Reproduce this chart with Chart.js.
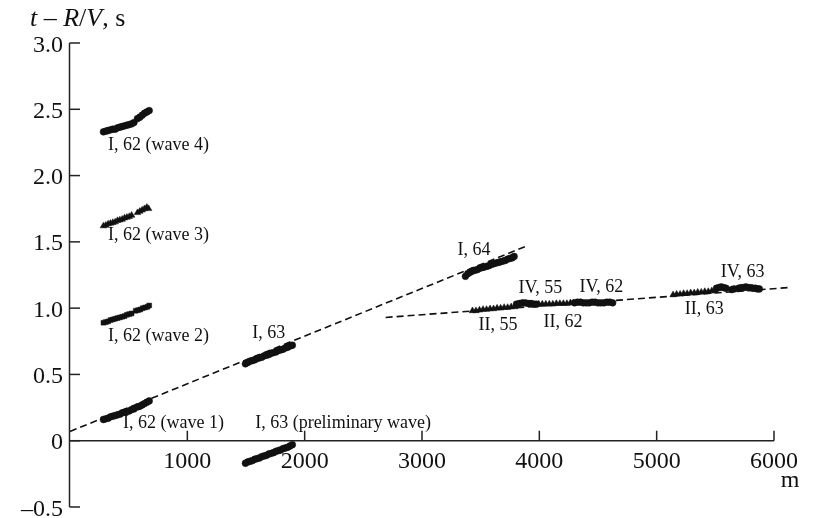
<!DOCTYPE html>
<html lang="en">
<head>
<meta charset="utf-8">
<title>t – R/V</title>
<script src="https://cdn.jsdelivr.net/npm/chart.js@4.4.1/dist/chart.umd.min.js"></script>
<style>
    html, body { margin: 0; padding: 0; background: #fff; }
    #chart-wrap { width: 821px; height: 518px; }
</style>
</head>
<body>
<div id="chart-wrap"><canvas id="travel-chart" width="821" height="518"></canvas></div>
<script>
// Graduations des axes
const xTicks = [1000, 2000, 3000, 4000, 5000, 6000];
const yTicks = [-0.5, 0, 0.5, 1.0, 1.5, 2.0, 2.5, 3.0];

// Profil I, 62 : quatre ondes
const wave4X = [285, 305, 325, 345, 365, 385, 405, 425, 445, 465, 485, 505, 525, 545, 575, 595, 615, 635, 655, 675];
const wave4Y = [2.33, 2.335, 2.34, 2.345, 2.35, 2.35, 2.36, 2.365, 2.37, 2.375, 2.38, 2.385, 2.39, 2.40, 2.43, 2.44, 2.455, 2.47, 2.48, 2.49];
const wave3X = [285, 305, 325, 345, 365, 385, 405, 425, 445, 465, 485, 505, 525, 575, 595, 615, 635, 655, 670];
const wave3Y = [1.62, 1.625, 1.635, 1.64, 1.645, 1.65, 1.66, 1.665, 1.67, 1.68, 1.685, 1.69, 1.70, 1.72, 1.73, 1.74, 1.75, 1.76, 1.75];
const wave2X = [285, 305, 325, 345, 365, 385, 405, 425, 445, 465, 485, 505, 525, 560, 580, 600, 620, 640, 660, 675];
const wave2Y = [0.89, 0.895, 0.90, 0.91, 0.915, 0.92, 0.925, 0.93, 0.935, 0.94, 0.95, 0.955, 0.96, 0.98, 0.985, 0.99, 1.00, 1.005, 1.01, 1.02];
const wave1X = [285, 305, 325, 345, 365, 385, 405, 425, 445, 465, 485, 505, 525, 545, 575, 595, 615, 635, 655, 675];
const wave1Y = [0.16, 0.165, 0.17, 0.18, 0.185, 0.19, 0.195, 0.20, 0.21, 0.215, 0.22, 0.225, 0.235, 0.24, 0.255, 0.26, 0.27, 0.28, 0.29, 0.30];

// Profils I, 63 et I, 64
const i63X = [1495, 1515, 1535, 1555, 1575, 1595, 1615, 1635, 1655, 1675, 1695, 1715, 1735, 1755, 1775, 1795, 1815, 1835, 1855, 1875, 1895];
const i63Y = [0.58, 0.59, 0.60, 0.605, 0.61, 0.62, 0.625, 0.63, 0.64, 0.645, 0.65, 0.66, 0.665, 0.67, 0.68, 0.685, 0.69, 0.70, 0.705, 0.715, 0.72];
const preX = [1495, 1515, 1535, 1555, 1575, 1595, 1615, 1635, 1655, 1675, 1695, 1715, 1735, 1755, 1775, 1795, 1815, 1835, 1855, 1875, 1895];
const preY = [-0.17, -0.16, -0.155, -0.15, -0.14, -0.135, -0.13, -0.12, -0.115, -0.11, -0.10, -0.095, -0.09, -0.08, -0.075, -0.07, -0.06, -0.055, -0.05, -0.04, -0.03];
const i64X = [3370, 3390, 3410, 3430, 3450, 3470, 3490, 3510, 3530, 3550, 3570, 3590, 3610, 3630, 3650, 3670, 3690, 3710, 3730, 3750, 3770, 3785];
const i64Y = [1.24, 1.26, 1.27, 1.28, 1.285, 1.29, 1.30, 1.305, 1.31, 1.315, 1.32, 1.33, 1.335, 1.34, 1.345, 1.35, 1.355, 1.36, 1.37, 1.375, 1.38, 1.39];

// Profils II et IV
const ii55X = [3430, 3460, 3490, 3520, 3550, 3580, 3610, 3640, 3670, 3700, 3730, 3760, 3790];
const ii55Y = [0.98, 0.98, 0.985, 0.99, 0.99, 0.995, 0.995, 1.00, 1.00, 1.005, 1.005, 1.01, 1.01];
const iv55X = [3805, 3830, 3855, 3880, 3905, 3930, 3955, 3975];
const iv55Y = [1.03, 1.035, 1.04, 1.04, 1.035, 1.035, 1.03, 1.03];
const ii62X = [3995, 4025, 4055, 4085, 4115, 4145, 4175, 4205, 4235, 4265, 4290];
const ii62Y = [1.03, 1.03, 1.03, 1.03, 1.03, 1.035, 1.035, 1.035, 1.035, 1.04, 1.04];
const iv62X = [4300, 4325, 4350, 4375, 4400, 4425, 4450, 4475, 4500, 4525, 4550, 4575, 4600, 4625];
const iv62Y = [1.04, 1.045, 1.045, 1.04, 1.04, 1.04, 1.045, 1.045, 1.04, 1.04, 1.04, 1.045, 1.045, 1.04];
const ii63X = [5140, 5170, 5200, 5230, 5260, 5290, 5320, 5350, 5380, 5410, 5440, 5470, 5500];
const ii63Y = [1.10, 1.105, 1.105, 1.11, 1.11, 1.115, 1.115, 1.12, 1.12, 1.125, 1.125, 1.13, 1.13];
const iv63X = [5510, 5530, 5550, 5570, 5590, 5640, 5660, 5700, 5720, 5740, 5760, 5780, 5800, 5820, 5840, 5860, 5875];
const iv63Y = [1.15, 1.155, 1.16, 1.155, 1.15, 1.14, 1.145, 1.15, 1.155, 1.155, 1.16, 1.155, 1.155, 1.15, 1.15, 1.145, 1.145];

// Droites de régression (pointillés)
const fit1X = [0, 3880];
const fit1Y = [0.07, 1.465];
const fit2X = [2690, 6120];
const fit2Y = [0.93, 1.155];

// Étiquettes des profils (coordonnées en données)
const labels = [
    { text: 'I, 62 (wave 4)', x: 324, y: 2.23 },
    { text: 'I, 62 (wave 3)', x: 324, y: 1.55 },
    { text: 'I, 62 (wave 2)', x: 324, y: 0.79 },
    { text: 'I, 62 (wave 1)', x: 452, y: 0.134 },
    { text: 'I, 63', x: 1553, y: 0.807 },
    { text: 'I, 63 (preliminary wave)', x: 1578, y: 0.134 },
    { text: 'I, 64', x: 3302, y: 1.435 },
    { text: 'IV, 55', x: 3823, y: 1.148 },
    { text: 'II, 55', x: 3481, y: 0.868 },
    { text: 'II, 62', x: 4036, y: 0.89 },
    { text: 'IV, 62', x: 4343, y: 1.155 },
    { text: 'IV, 63', x: 5546, y: 1.268 },
    { text: 'II, 63', x: 5239, y: 0.989 }
];

const SERIF = '"Liberation Serif", "Times New Roman", serif';
const INK = '#111';

document.addEventListener('DOMContentLoaded', function() {
    initTravelChart();
});

/**
 * Combine deux tableaux x / y en points {x, y}
 */
function toPoints(xs, ys) {
    return xs.map((x, i) => ({ x: x, y: ys[i] }));
}

/**
 * Jeu de points (marqueurs noirs)
 */
function markerSet(name, xs, ys, style) {
    return {
        label: name,
        data: toPoints(xs, ys),
        showLine: false,
        pointStyle: style,
        pointRadius: style === 'triangle' ? 3.8 : 3.4,
        pointBackgroundColor: INK,
        pointBorderColor: INK,
        pointBorderWidth: 0.5,
        order: 0
    };
}

/**
 * Droite en pointillés
 */
function dashedLine(name, xs, ys) {
    return {
        label: name,
        data: toPoints(xs, ys),
        showLine: true,
        borderColor: INK,
        borderWidth: 1.6,
        borderDash: [7, 4],
        pointRadius: 0,
        fill: false,
        clip: false,
        order: 1
    };
}

/**
 * Dessine les axes, graduations, titres et étiquettes
 */
const axesPlugin = {
    id: 'axesPlugin',
    afterDraw(chart) {
        const ctx = chart.ctx;
        const xs = chart.scales.x;
        const ys = chart.scales.y;
        const x0 = xs.getPixelForValue(0);
        const y0 = ys.getPixelForValue(0);

        ctx.save();
        ctx.strokeStyle = '#222';
        ctx.fillStyle = INK;
        ctx.lineWidth = 1.5;

        // Axe vertical
        ctx.beginPath();
        ctx.moveTo(x0 - 0.5, ys.getPixelForValue(yTicks[yTicks.length - 1]));
        ctx.lineTo(x0 - 0.5, ys.getPixelForValue(yTicks[0]));
        ctx.stroke();

        // Axe horizontal (à t = 0)
        ctx.beginPath();
        ctx.moveTo(x0 - 1, y0);
        ctx.lineTo(xs.getPixelForValue(xTicks[xTicks.length - 1]), y0);
        ctx.stroke();

        // Graduations Y (vers l'intérieur)
        ctx.font = '24px ' + SERIF;
        ctx.textAlign = 'right';
        ctx.textBaseline = 'alphabetic';
        yTicks.forEach(v => {
            const py = ys.getPixelForValue(v);
            ctx.beginPath();
            ctx.moveTo(x0 - 0.5, py);
            ctx.lineTo(x0 + 10, py);
            ctx.stroke();
            let txt = v === 0 ? '0' : Math.abs(v).toFixed(1);
            if (v < 0) txt = '\u2013' + txt;
            ctx.fillText(txt, x0 - 7, py + 8.5);
        });

        // Graduations X (vers le haut)
        ctx.textAlign = 'center';
        xTicks.forEach(v => {
            const px = xs.getPixelForValue(v);
            ctx.beginPath();
            ctx.moveTo(px, y0);
            ctx.lineTo(px, y0 - 10);
            ctx.stroke();
            ctx.fillText(String(v), px, y0 + 27);
        });

        // Unité de l'axe X
        ctx.fillText('m', xs.getPixelForValue(xTicks[xTicks.length - 1]) + 16, y0 + 46);

        // Titre de l'axe Y : t – R/V, s
        const parts = [
            { text: 't', italic: true },
            { text: ' \u2013 ', italic: false },
            { text: 'R', italic: true },
            { text: '/', italic: false },
            { text: 'V', italic: true },
            { text: ', s', italic: false }
        ];
        ctx.textAlign = 'left';
        let tx = 30;
        parts.forEach(p => {
            ctx.font = (p.italic ? 'italic ' : '') + '26px ' + SERIF;
            ctx.fillText(p.text, tx, 26);
            tx += ctx.measureText(p.text).width;
        });

        // Étiquettes des profils
        ctx.font = '18px ' + SERIF;
        ctx.textBaseline = 'middle';
        labels.forEach(l => {
            ctx.fillText(l.text, xs.getPixelForValue(l.x), ys.getPixelForValue(l.y));
        });

        ctx.restore();
    }
};

/**
 * Initialise le graphique t – R/V en fonction de la distance
 */
function initTravelChart() {
    const ctx = document.getElementById('travel-chart').getContext('2d');

    const data = {
        datasets: [
            dashedLine('fit I', fit1X, fit1Y),
            dashedLine('fit II/IV', fit2X, fit2Y),
            markerSet('I, 62 (wave 4)', wave4X, wave4Y, 'circle'),
            markerSet('I, 62 (wave 3)', wave3X, wave3Y, 'triangle'),
            markerSet('I, 62 (wave 2)', wave2X, wave2Y, 'rect'),
            markerSet('I, 62 (wave 1)', wave1X, wave1Y, 'circle'),
            markerSet('I, 63', i63X, i63Y, 'circle'),
            markerSet('I, 63 (preliminary wave)', preX, preY, 'circle'),
            markerSet('I, 64', i64X, i64Y, 'circle'),
            markerSet('II, 55', ii55X, ii55Y, 'triangle'),
            markerSet('IV, 55', iv55X, iv55Y, 'circle'),
            markerSet('II, 62', ii62X, ii62Y, 'triangle'),
            markerSet('IV, 62', iv62X, iv62Y, 'circle'),
            markerSet('II, 63', ii63X, ii63Y, 'triangle'),
            markerSet('IV, 63', iv63X, iv63Y, 'circle')
        ]
    };

    const config = {
        type: 'scatter',
        data: data,
        options: {
            responsive: false,
            animation: false,
            devicePixelRatio: 1,
            layout: {
                padding: { left: 70, top: 43, right: 47, bottom: 11 }
            },
            plugins: {
                legend: { display: false },
                tooltip: { enabled: false }
            },
            scales: {
                x: {
                    type: 'linear',
                    min: 0,
                    max: 6000,
                    display: false
                },
                y: {
                    type: 'linear',
                    min: -0.5,
                    max: 3.0,
                    display: false
                }
            }
        },
        plugins: [axesPlugin]
    };

    new Chart(ctx, config);
}
</script>
</body>
</html>
